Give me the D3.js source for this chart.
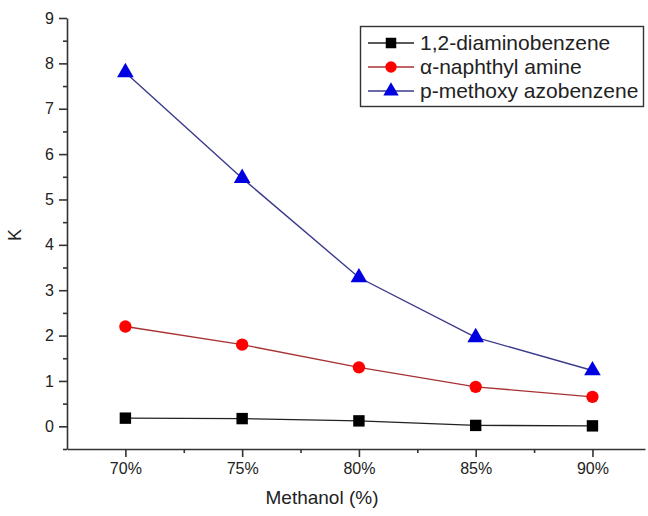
<!DOCTYPE html>
<html>
<head>
<meta charset="utf-8">
<script src="https://cdn.jsdelivr.net/npm/d3@7"></script>
<style>
    body { margin: 0; background: #fff; }
    svg text { font-family: "Liberation Sans", Arial, sans-serif; fill: #222; }
</style>
</head>
<body>
<svg id="chart" width="648" height="516"></svg>
<script>
// Methanol content (%)
var methanol = [70, 75, 80, 85, 90];

var diaminobenzene = [0.18, 0.17, 0.12, 0.02, 0.01];
var naphthylAmine = [2.2, 1.8, 1.3, 0.87, 0.65];
var methoxyAzobenzene = [7.8, 5.47, 3.28, 1.96, 1.23];

var seriesNames = ["1,2-diaminobenzene", "\u03b1-naphthyl amine", "p-methoxy azobenzene"];
var yTicks = [0, 1, 2, 3, 4, 5, 6, 7, 8, 9];

window.addEventListener("load", function () {
    drawChart();
});

function drawChart() {
    var svg = d3.select("#chart");

    var x = d3.scaleLinear().domain([67.5, 92.25]).range([67, 645]);
    var y = d3.scaleLinear().domain([-0.5, 9]).range([449, 18]);

    var series = [
        { name: seriesNames[0], values: diaminobenzene, line: "#222", fill: "#000", symbol: d3.symbolSquare, size: 130 },
        { name: seriesNames[1], values: naphthylAmine, line: "#a83232", fill: "#f00", symbol: d3.symbolCircle, size: 120 },
        { name: seriesNames[2], values: methoxyAzobenzene, line: "#3a3a8c", fill: "#0000e0", symbol: d3.symbolTriangle, size: 120 }
    ];

    // minor ticks first, major on top
    var xMinor = methanol.map(function (d) { return d + 2.5; }).slice(0, 4);
    var yMinor = yTicks.map(function (d) { return d + 0.5; }).slice(0, 9);
    yMinor.unshift(-0.5);

    svg.append("g")
        .attr("transform", "translate(0,449)")
        .call(d3.axisBottom(x).tickValues(xMinor).tickSize(4).tickFormat(""))
        .call(function (g) { g.select(".domain").remove(); });

    svg.append("g")
        .attr("transform", "translate(67,0)")
        .call(d3.axisLeft(y).tickValues(yMinor).tickSize(4).tickFormat(""))
        .call(function (g) { g.select(".domain").remove(); });

    var xAxis = svg.append("g")
        .attr("transform", "translate(0,449)")
        .call(d3.axisBottom(x).tickValues(methanol).tickSize(8).tickSizeOuter(0)
            .tickFormat(function (d) { return d + "%"; }));
    xAxis.selectAll("text").attr("dy", "0.85em").style("font-size", "16px");

    var yAxis = svg.append("g")
        .attr("transform", "translate(67,0)")
        .call(d3.axisLeft(y).tickValues(yTicks).tickSize(8).tickSizeOuter(0));
    yAxis.selectAll("text").attr("x", -13).style("font-size", "16px");

    svg.selectAll(".domain, .tick line").attr("stroke", "#333").attr("stroke-width", 1.6);

    // axis titles
    svg.append("text")
        .attr("x", 322)
        .attr("y", 504)
        .attr("text-anchor", "middle")
        .style("font-size", "19px")
        .text("Methanol (%)");

    svg.append("text")
        .attr("transform", "translate(21,235) rotate(-90)")
        .attr("text-anchor", "middle")
        .style("font-size", "18px")
        .text("K");

    var line = d3.line()
        .x(function (d, i) { return x(methanol[i]); })
        .y(function (d) { return y(d); });

    series.forEach(function (s) {
        svg.append("path")
            .datum(s.values)
            .attr("fill", "none")
            .attr("stroke", s.line)
            .attr("stroke-width", 1.4)
            .attr("d", line);

        svg.selectAll(null)
            .data(s.values)
            .enter().append("path")
            .attr("transform", function (d, i) { return "translate(" + x(methanol[i]) + "," + y(d) + ")"; })
            .attr("d", d3.symbol().type(s.symbol).size(s.size))
            .attr("fill", s.fill);
    });

    // Legend
    var legend = svg.append("g");
    legend.append("rect")
        .attr("x", 360.5)
        .attr("y", 26.5)
        .attr("width", 283)
        .attr("height", 80)
        .attr("fill", "#fff")
        .attr("stroke", "#333")
        .attr("stroke-width", 1.4);

    series.forEach(function (s, i) {
        var ly = 43 + i * 24;
        legend.append("line")
            .attr("x1", 368).attr("x2", 414)
            .attr("y1", ly).attr("y2", ly)
            .attr("stroke", s.line)
            .attr("stroke-width", 1.4);
        legend.append("path")
            .attr("transform", "translate(391," + ly + ")")
            .attr("d", d3.symbol().type(s.symbol).size(s.size * 0.85))
            .attr("fill", s.fill);
        legend.append("text")
            .attr("x", 420)
            .attr("y", ly)
            .attr("dy", "0.35em")
            .style("font-size", "21px")
            .text(s.name);
    });
}
</script>
</body>
</html>
